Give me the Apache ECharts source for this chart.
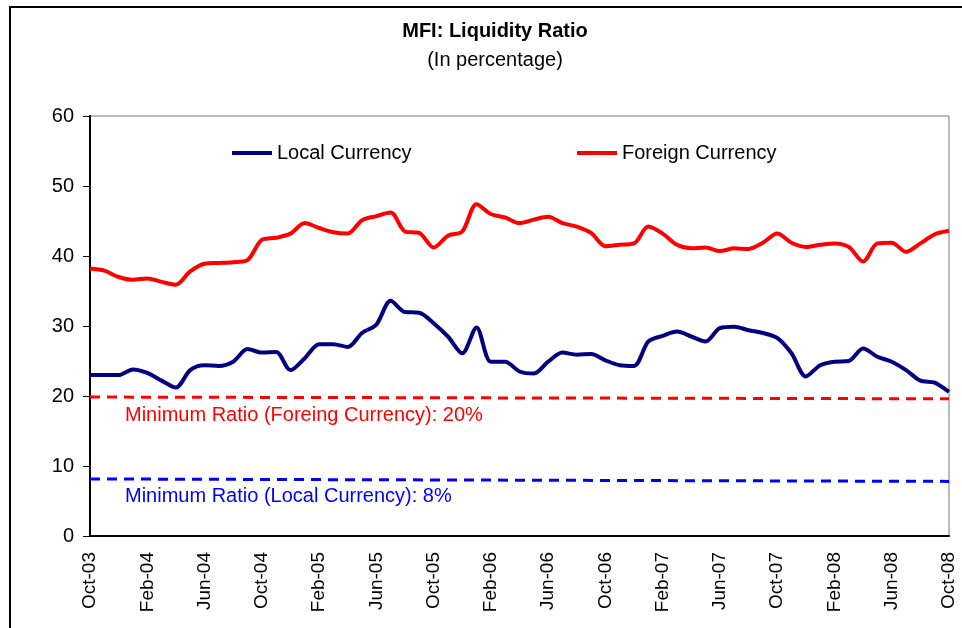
<!DOCTYPE html>
<html>
<head>
<meta charset="UTF-8">
<title>MFI: Liquidity Ratio</title>
<script src="https://cdn.jsdelivr.net/npm/echarts@6/dist/echarts.min.js"></script>
<style>
html, body { margin:0; padding:0; background:#fff; }
#chart { width:962px; height:628px; }
</style>
</head>
<body>
<div id="chart"></div>
<script type="text/javascript">
// monthly, Oct-03 .. Oct-08
var months = ['Oct-03','Nov-03','Dec-03','Jan-04','Feb-04','Mar-04','Apr-04','May-04','Jun-04','Jul-04','Aug-04','Sep-04',
	'Oct-04','Nov-04','Dec-04','Jan-05','Feb-05','Mar-05','Apr-05','May-05','Jun-05','Jul-05','Aug-05','Sep-05',
	'Oct-05','Nov-05','Dec-05','Jan-06','Feb-06','Mar-06','Apr-06','May-06','Jun-06','Jul-06','Aug-06','Sep-06',
	'Oct-06','Nov-06','Dec-06','Jan-07','Feb-07','Mar-07','Apr-07','May-07','Jun-07','Jul-07','Aug-07','Sep-07',
	'Oct-07','Nov-07','Dec-07','Jan-08','Feb-08','Mar-08','Apr-08','May-08','Jun-08','Jul-08','Aug-08','Sep-08','Oct-08'];

var localCurrency = [23.0,23.0,23.0,23.8,23.3,22.2,21.2,23.7,24.4,24.3,24.9,26.7,
	26.2,26.3,23.7,25.4,27.4,27.4,27.0,29.0,30.2,33.6,32.0,31.9,
	30.4,28.5,26.1,29.8,24.9,24.9,23.5,23.2,24.9,26.2,25.9,26.0,
	25.1,24.4,24.3,27.8,28.6,29.2,28.5,27.8,29.7,29.9,29.4,29.0,
	28.3,26.1,22.8,24.4,24.9,25.0,26.8,25.6,24.9,23.7,22.2,21.9,20.6];

var foreignCurrency = [38.2,37.9,37.0,36.6,36.8,36.3,35.9,37.8,38.9,39.0,39.1,39.4,
	42.3,42.6,43.2,44.7,44.0,43.4,43.2,45.1,45.7,46.2,43.5,43.3,
	41.2,42.9,43.5,47.4,46.0,45.5,44.7,45.2,45.6,44.7,44.2,43.3,
	41.4,41.6,41.8,44.2,43.2,41.6,41.1,41.2,40.7,41.1,41.0,41.9,
	43.2,41.9,41.3,41.6,41.8,41.3,39.2,41.8,41.9,40.6,41.8,43.1,43.6];

// minimum required ratios (drawn from first to last month)
var minForeign = [19.85, 19.6];
var minLocal = [8.15, 7.8];

var yTicks = [0, 10, 20, 30, 40, 50, 60];

var font = 'Liberation Sans, Arial, sans-serif';

var chart = echarts.init(document.getElementById('chart'));

var option = {
	backgroundColor: '#fff',
	animation: false,
	title: {
		text: 'MFI: Liquidity Ratio',
		subtext: '(In percentage)',
		left: 490,
		textAlign: 'center',
		top: 16,
		itemGap: 9,
		textStyle: { fontFamily: font, fontSize: 20, fontWeight: 'bold', color: '#000' },
		subtextStyle: { fontFamily: font, fontSize: 20, color: '#000' }
	},
	legend: [{
		data: ['Local Currency'],
		left: 232, top: 143, padding: 0,
		icon: 'rect', itemWidth: 40, itemHeight: 4, itemGap: 6,
		textStyle: { fontFamily: font, fontSize: 20, color: '#000' }
	}, {
		data: ['Foreign Currency'],
		left: 577, top: 143, padding: 0,
		icon: 'rect', itemWidth: 40, itemHeight: 4, itemGap: 6,
		textStyle: { fontFamily: font, fontSize: 20, color: '#000' }
	}],
	grid: {
		left: 90, right: 13, top: 116, bottom: 92,
		show: true, borderColor: '#777', borderWidth: 1, backgroundColor: 'transparent'
	},
	xAxis: {
		type: 'category',
		data: months,
		boundaryGap: false,
		axisLine: { lineStyle: { color: '#000', width: 2 } },
		axisTick: { show: false },
		axisLabel: {
			interval: 3, rotate: 90, margin: 16,
			fontFamily: font, fontSize: 19, color: '#000'
		},
		splitLine: { show: false }
	},
	yAxis: {
		type: 'value',
		min: yTicks[0], max: yTicks[yTicks.length - 1], interval: 10,
		axisLine: { show: true, lineStyle: { color: '#000', width: 2 } },
		axisTick: { show: true, length: 7, lineStyle: { color: '#000' } },
		axisLabel: { margin: 16, fontFamily: font, fontSize: 20, color: '#000' },
		splitLine: { show: false }
	},
	series: [{
		name: 'Local Currency',
		type: 'line',
		data: localCurrency,
		smooth: 0.3,
		symbol: 'none',
		color: '#000080',
		lineStyle: { color: '#000080', width: 4 }
	}, {
		name: 'Foreign Currency',
		type: 'line',
		data: foreignCurrency,
		smooth: 0.3,
		symbol: 'none',
		color: '#ff0000',
		lineStyle: { color: '#ff0000', width: 4 }
	}, {
		name: 'Min Foreign',
		type: 'line',
		data: [[months[0], minForeign[0]], [months[months.length - 1], minForeign[1]]],
		symbol: 'none',
		lineStyle: { color: '#ff0000', width: 3, type: [10, 7] }
	}, {
		name: 'Min Local',
		type: 'line',
		data: [[months[0], minLocal[0]], [months[months.length - 1], minLocal[1]]],
		symbol: 'none',
		lineStyle: { color: '#0000ff', width: 3, type: [10, 7] }
	}],
	graphic: [{
		type: 'rect',
		shape: { x: 10, y: 7, width: 1000, height: 700 },
		style: { fill: 'none', stroke: '#000', lineWidth: 2 },
		silent: true
	}, {
		type: 'text',
		left: 125, top: 405,
		style: { text: 'Minimum Ratio (Foreing Currency): 20%', fill: '#ff0000', fontFamily: font, fontSize: 20 }
	}, {
		type: 'text',
		left: 125, top: 486,
		style: { text: 'Minimum Ratio (Local Currency): 8%', fill: '#0000ff', fontFamily: font, fontSize: 20 }
	}]
};

chart.setOption(option);
</script>
</body>
</html>
